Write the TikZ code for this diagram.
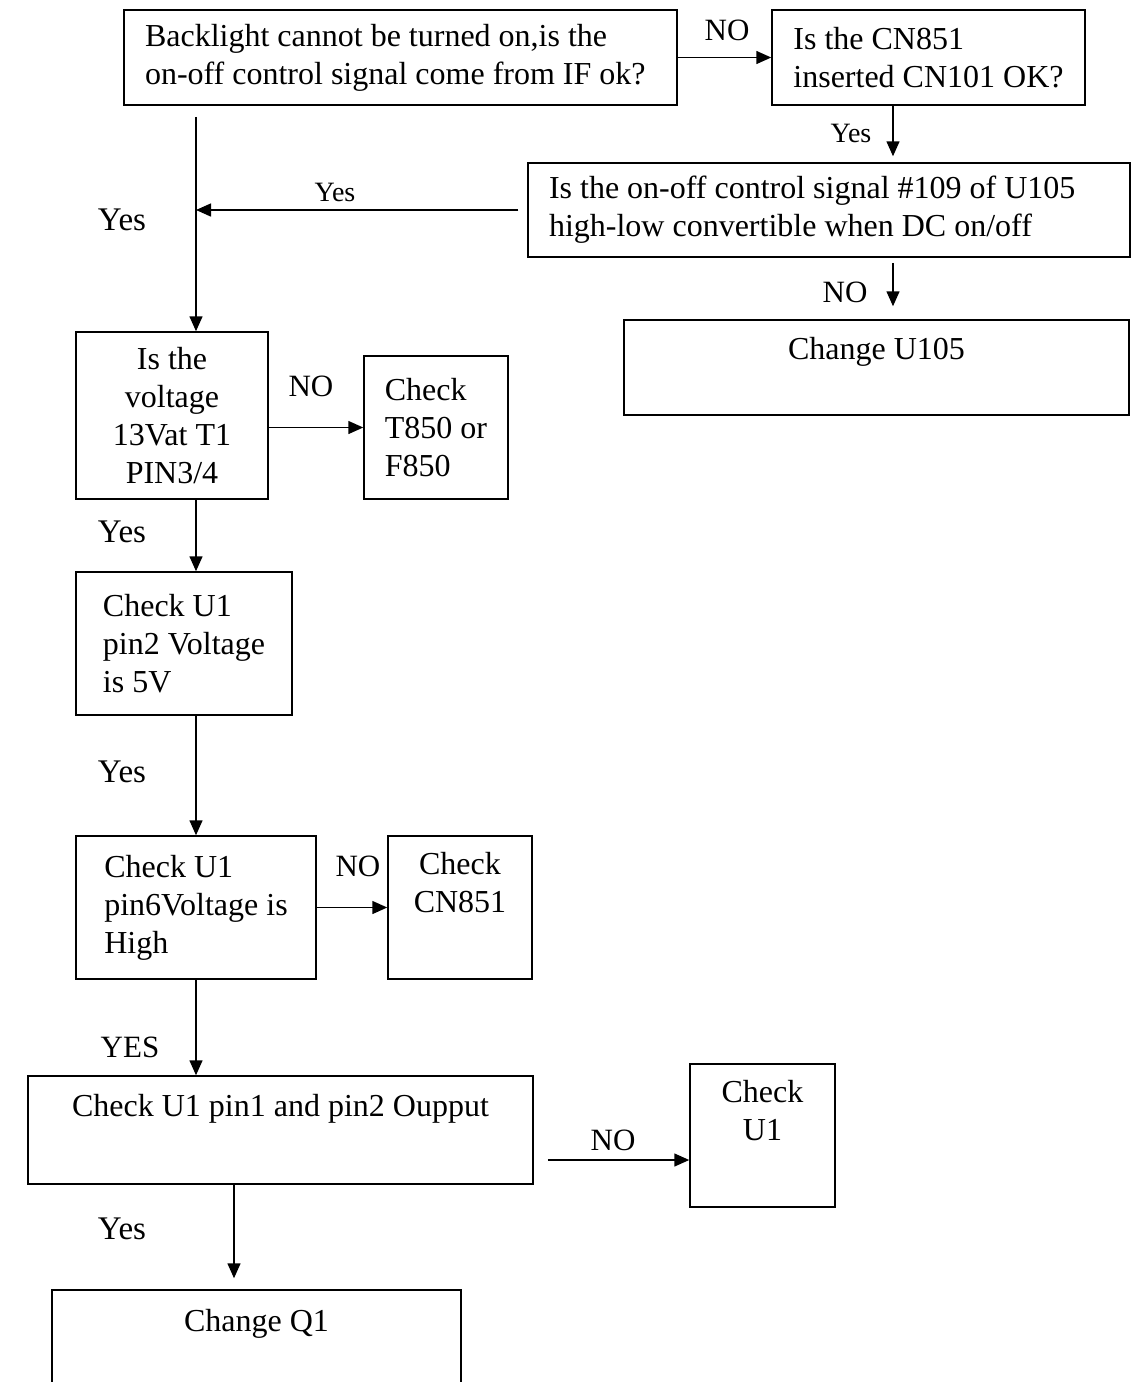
\documentclass[tikz,border=0pt]{standalone}
\usepackage{fontspec}
\setmainfont{Liberation Serif}
\usetikzlibrary{arrows.meta,calc}
\begin{document}
\begin{tikzpicture}[x=1pt,y=1pt,
  box/.style={draw, line width=1.5pt, inner ysep=0pt, font=\fontsize{32}{38}\selectfont},
  arr/.style={line width=1.5pt, -{Triangle[length=15pt,width=13pt]}},
  lbl/.style={inner sep=0pt, font=\fontsize{31}{36}\selectfont},
  sml/.style={inner sep=0pt, font=\fontsize{28}{34}\selectfont},
  big/.style={inner sep=0pt, font=\fontsize{33}{38}\selectfont}]
\useasboundingbox (0,0) rectangle (1142,-1382);
\clip (0,0) rectangle (1142,-1382);

% boxes
\node[box, minimum width=553pt, minimum height=95pt, text width=511pt, inner xsep=21pt, align=flush left] (A) at (400.5,-57.5)
  {Backlight cannot be turned on,is the\\on-off control signal come from IF ok?};
\node[box, minimum width=313pt, minimum height=95pt, align=left] (B) at (928.5,-57.5)
  {Is the CN851\\inserted CN101 OK?};
\node[box, minimum width=602pt, minimum height=94pt, text width=560pt, inner xsep=21pt, align=flush left] (C) at (829,-210)
  {Is the on-off control signal \#109 of U105\\high-low convertible when DC on/off};
\node[box, minimum width=505pt, minimum height=95pt, align=center] (E) at (876.5,-367.5)
  {Change U105\\\mbox{}};
\node[box, minimum width=192pt, minimum height=167pt, align=center] (D) at (172,-415.5)
  {Is the\\voltage\\13Vat T1\\PIN3/4};
\node[box, minimum width=144pt, minimum height=143pt, align=left] (F) at (436,-427.5)
  {Check\\T850 or\\F850};
\node[box, minimum width=216pt, minimum height=143pt, align=left] (G) at (184,-643.5)
  {Check U1\\pin2 Voltage\\is 5V};
\node[box, minimum width=240pt, minimum height=143pt, align=left] (H) at (196,-907.5)
  {Check U1\\pin6Voltage is\\High};
\node[box, minimum width=144pt, minimum height=143pt, align=center] (I) at (460,-907.5)
  {Check\\CN851\\\strut};
\node[box, minimum width=505pt, minimum height=108pt, align=center] (J) at (280.5,-1130)
  {Check U1 pin1 and pin2 Oupput\\\strut};
\node[box, minimum width=145pt, minimum height=143pt, align=center] (K) at (762.5,-1135.5)
  {Check\\U1\\\strut};
\node[box, minimum width=409pt, minimum height=110pt, align=center] (L) at (256.5,-1345)
  {Change Q1\\\strut};

% helper coordinates
\coordinate (xB) at (893,0);
\coordinate (xM) at (196,0);
\coordinate (xL) at (234,0);
\coordinate (yJK) at (0,-1160);

% connectors
\draw[arr] (A.east) -- (B.west);
\draw[arr, shorten >=6pt] (B.south -| xB) -- (C.north -| xB);
\draw[arr, shorten <=9pt] (C.west) -- (C.west -| xM);
\draw[arr, shorten <=11pt] (A.south -| xM) -- (D.north -| xM);
\draw[arr, shorten <=5pt, shorten >=13pt] (C.south -| xB) -- (E.north -| xB);
\draw[arr] (D.east |- F.west) -- (F.west);
\draw[arr] (D.south -| xM) -- (G.north -| xM);
\draw[arr] (G.south -| xM) -- (H.north);
\draw[arr] (H.east) -- (I.west);
\draw[arr] (H.south) -- (J.north -| H.south);
\draw[arr, shorten <=14pt] (J.east |- yJK) -- (K.west |- yJK);
\draw[arr, shorten >=11pt] (J.south -| xL) -- (L.north -| xL);

% labels
\node[lbl] (l1) at (727,-30) {NO};
\node[sml] (l2) at (851,-133) {Yes};
\node[sml] (l3) at (335,-192) {Yes};
\node[big] (l4) at (122,-220) {Yes};
\node[lbl] (l5) at (845,-292) {NO};
\node[lbl] (l6) at (311,-386) {NO};
\node[big] (l7) at (122,-532) {Yes};
\node[big] (l8) at (122,-772) {Yes};
\node[lbl] (l9) at (358,-866) {NO};
\node[lbl] (l10) at (130,-1047) {YES};
\node[lbl] (l11) at (613,-1140) {NO};
\node[big] (l12) at (122,-1229) {Yes};
\end{tikzpicture}
\end{document}
